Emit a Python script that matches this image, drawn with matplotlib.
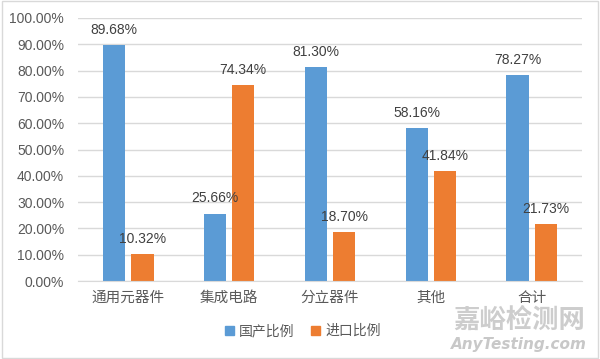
import matplotlib
matplotlib.use("Agg")
import matplotlib.pyplot as plt
from matplotlib.patches import Rectangle, Patch
import numpy as np

plt.rcParams['font.family'] = ['Liberation Sans', 'Noto Sans CJK SC', 'DejaVu Sans']

categories = ["通用元器件", "集成电路", "分立器件", "其他", "合计"]
domestic = [89.68, 25.66, 81.30, 58.16, 78.27]
imported = [10.32, 74.34, 18.70, 41.84, 21.73]
series_names = ["国产比例", "进口比例"]
yticks = [0, 10, 20, 30, 40, 50, 60, 70, 80, 90, 100]

blue = "#5B9BD5"
orange = "#ED7D31"

fig = plt.figure(figsize=(6.0, 3.59), dpi=100)
ax = fig.add_axes([0.13, 0.217, 0.84, 0.733])

x = np.arange(len(categories))
w = 0.22
gap = 0.06
b1 = ax.bar(x - (w + gap) / 2, domestic, width=w, color=blue, zorder=3)
b2 = ax.bar(x + (w + gap) / 2, imported, width=w, color=orange, zorder=3)

for bars, vals in ((b1, domestic), (b2, imported)):
    for r, v in zip(bars, vals):
        ax.annotate(f"{v:.2f}%", (r.get_x() + r.get_width() / 2, v),
                    xytext=(0, 6), textcoords="offset points",
                    ha="center", va="bottom", fontsize=10, color="#404040")

ax.set_xlim(-0.5, len(categories) - 0.5)
ax.set_ylim(0, 100)
ax.set_yticks(yticks)
ax.set_yticklabels([f"{t:.2f}%" for t in yticks], fontsize=10, color="#595959")
ax.set_xticks(x)
ax.set_xticklabels(categories, fontsize=10.5, color="#595959",
                   family=['Noto Sans CJK SC', 'DejaVu Sans'])
ax.tick_params(axis='both', length=0)
ax.tick_params(axis='y', pad=10)
ax.tick_params(axis='x', pad=7)
ax.grid(axis='y', color="#d9d9d9", linewidth=1, zorder=0)
for s in ("top", "right", "left"):
    ax.spines[s].set_visible(False)
ax.spines["bottom"].set_color("#d9d9d9")
ax.spines["bottom"].set_zorder(4)

handles = [Patch(color=blue), Patch(color=orange)]
leg = fig.legend(handles, series_names, loc="center", bbox_to_anchor=(0.505, 0.078),
                 ncol=2, frameon=False, handlelength=0.6, handleheight=0.6,
                 handletextpad=0.4, columnspacing=1.2,
                 prop={'family': ['Noto Sans CJK SC', 'DejaVu Sans'], 'size': 10})
for t in leg.get_texts():
    t.set_color("#595959")

# watermark
fig.text(0.865, 0.108, "嘉峪检测网", ha="center", va="center", fontsize=19,
         color="#c8c8c8", fontweight="bold", family=['Noto Sans CJK SC'], alpha=0.9)
fig.text(0.865, 0.040, "AnyTesting.com", ha="center", va="center", fontsize=11,
         color="#c8c8c8", style="italic", fontweight="bold", family=['DejaVu Sans'])

fig.add_artist(Rectangle((0.004, 0.004), 0.992, 0.992, transform=fig.transFigure,
                         fill=False, edgecolor="#d9d9d9", linewidth=1))

fig.savefig("out.png", dpi=100)
